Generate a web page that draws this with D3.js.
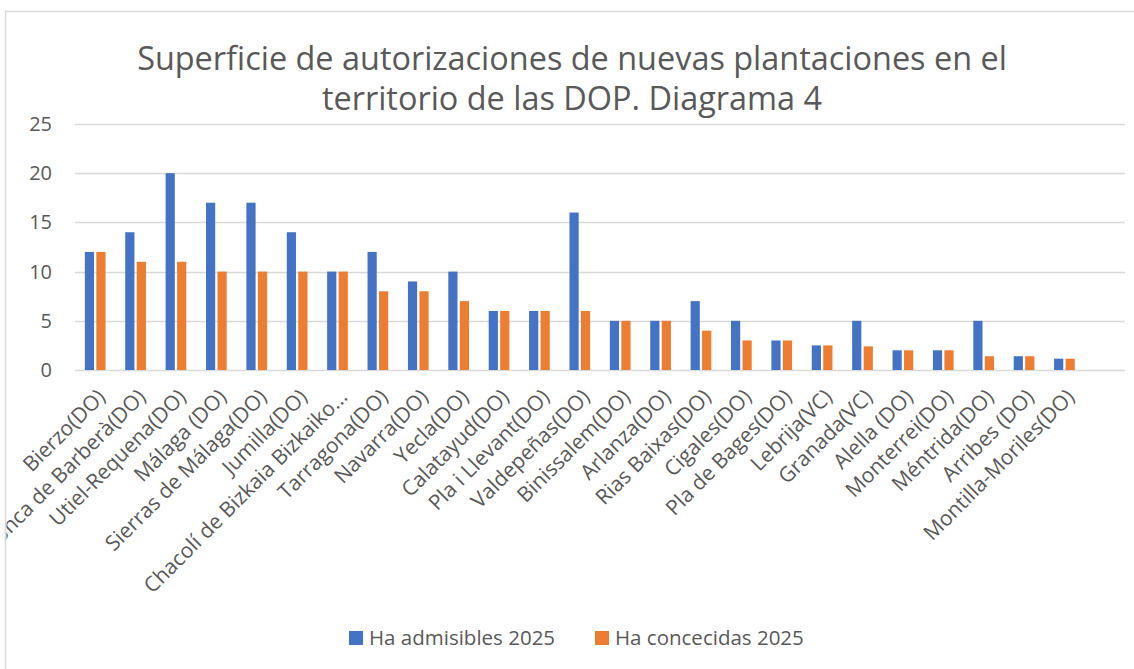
<!DOCTYPE html>
<html><head><meta charset="utf-8">
<script src="https://cdn.jsdelivr.net/npm/d3@7"></script>
<style>body{margin:0;background:#fff;} svg{display:block;font-family:"Open Sans",sans-serif;}</style>
</head><body>
<svg id="c" width="1134" height="669"></svg>
<script>
const categories = ["Bierzo(DO)","Conca de Barberà(DO)","Utiel-Requena(DO)","Málaga (DO)","Sierras de Málaga(DO)","Jumilla(DO)","Chacolí de Bizkaia Bizkaiko...","Tarragona(DO)","Navarra(DO)","Yecla(DO)","Calatayud(DO)","Pla i Llevant(DO)","Valdepeñas(DO)","Binissalem(DO)","Arlanza(DO)","Rias Baixas(DO)","Cigales(DO)","Pla de Bages(DO)","Lebrija(VC)","Granada(VC)","Alella (DO)","Monterrei(DO)","Méntrida(DO)","Arribes (DO)","Montilla-Moriles(DO)"];
const admisibles = [12,14,20,17,17,14,10,12,9,10,6,6,16,5,5,7,5,3,2.5,5,2,2,5,1.4,1.15];
const concedidas = [12,11,11,10,10,10,10,8,8,7,6,6,6,5,5,4,3,3,2.5,2.4,2,2,1.4,1.4,1.15];
const seriesNames = ["Ha admisibles 2025","Ha concecidas 2025"];
const yTicks = [0,5,10,15,20,25];
const titleLines = ["Superficie de autorizaciones de nuevas plantaciones en el","territorio de las DOP. Diagrama 4"];

const colors = ["#4472C4","#ED7D31"];
const textColor = "#595959";
const grid = "#d9d9d9";

const svg = d3.select("#c");
// chart border
svg.append("rect").attr("x",5.5).attr("y",11.5).attr("width",1200).attr("height",700)
  .attr("fill","none").attr("stroke",grid).attr("stroke-width",1.5);

const clip = svg.append("defs").append("clipPath").attr("id","area");
clip.append("rect").attr("x",6.5).attr("y",12).attr("width",1200).attr("height",700);
const g = svg.append("g").attr("clip-path","url(#area)");

const domain = categories.map((d,i)=>i).concat([categories.length]);
const x = d3.scaleBand().domain(domain).range([75,1125]);
const y = d3.scaleLinear().domain([0,25]).range([370,124]);
const sub = d3.scaleBand().domain([0,1]).range([0,x.bandwidth()]).paddingInner(0.2).paddingOuter(0.857);

// gridlines
g.append("g").selectAll("line").data(yTicks).join("line")
  .attr("x1",75).attr("x2",1125).attr("y1",d=>Math.round(y(d))+0.5).attr("y2",d=>Math.round(y(d))+0.5)
  .attr("stroke",grid).attr("stroke-width",1.5);

// y labels
g.append("g").selectAll("text").data(yTicks).join("text")
  .attr("x",52).attr("y",d=>y(d)).attr("dy","0.35em").attr("text-anchor","end")
  .attr("fill",textColor).style("font-size","20px").text(d=>d);

// bars
const series = [admisibles, concedidas];
series.forEach((vals,si)=>{
  g.append("g").selectAll("rect").data(vals).join("rect")
    .attr("x",(d,i)=>x(i)+sub(si)).attr("width",sub.bandwidth())
    .attr("y",d=>y(d)).attr("height",d=>y(0)-y(d))
    .attr("fill",colors[si]);
});

// x labels
g.append("g").selectAll("text").data(categories).join("text")
  .attr("transform",(d,i)=>`translate(${x(i)+x.bandwidth()/2+6},393) rotate(-45)`)
  .attr("text-anchor","end").attr("dy","0.35em")
  .attr("fill",textColor).style("font-size","21px").text(d=>d);

// title
const title = g.append("g");
const tl = title.selectAll("text").data(titleLines).join("text")
  .attr("x",572).attr("y",(d,i)=>70+i*40).attr("text-anchor","middle")
  .attr("fill",textColor).style("font-size","30px").text(d=>d);
const w0 = tl.nodes()[0].getComputedTextLength();
tl.style("font-size",(30*870/w0)+"px");

// legend
const legX = [349,595];
const leg = g.append("g");
seriesNames.forEach((n,i)=>{
  leg.append("rect").attr("x",legX[i]).attr("y",631).attr("width",14).attr("height",14).attr("fill",colors[i]);
  leg.append("text").attr("x",legX[i]+20).attr("y",638).attr("dy","0.35em")
    .attr("fill",textColor).style("font-size","20.5px").text(n);
});
</script>
</body></html>
